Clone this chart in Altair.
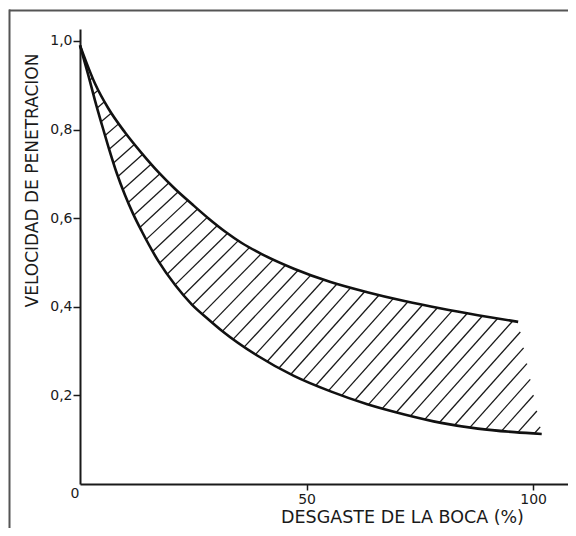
import altair as alt
import pandas as pd
import numpy as np

# ---- data ----
X_UPPER = [0, 3.3, 6.3, 9.9, 13.6, 17.3, 21.0, 24.7, 28.3, 32.0, 35.7, 40.1,
           47.2, 55.3, 63.4, 71.6, 79.7, 87.8, 96.7]
Y_UPPER = [0.99, 0.904, 0.847, 0.794, 0.747, 0.704, 0.666, 0.632, 0.600, 0.570, 0.544,
           0.519, 0.486, 0.456, 0.433, 0.413, 0.396, 0.381, 0.366]

X_LOWER = [0, 1.8, 3.3, 4.8, 6.3, 8.1, 9.9, 11.8, 13.6, 17.3, 21.0, 24.7, 28.3, 31.3,
           39.1, 47.2, 55.3, 63.4, 71.6, 79.7, 87.8, 95.9, 101.9]
Y_LOWER = [0.99, 0.924, 0.866, 0.812, 0.760, 0.702, 0.653, 0.608, 0.571, 0.503, 0.449,
           0.405, 0.372, 0.346, 0.290, 0.244, 0.209, 0.180, 0.157, 0.138, 0.125, 0.117, 0.113]

X_TICKS = [50, 100]
Y_TICKS = [0.2, 0.4, 0.6, 0.8, 1.0]
ORIGIN_LABEL = "0"
X_TITLE = "DESGASTE DE LA BOCA (%)"
Y_TITLE = "VELOCIDAD DE PENETRACION"

# ---- layout ----
W, H = 488, 455
XMAX, YMAX = 107.7, 1.027
SX, SY = W / XMAX, H / YMAX
FONT = "DejaVu Sans"
INK = "#1a1a1a"


def to_px(x, y):
    return x * SX, (YMAX - y) * SY


def to_data(X, Y):
    return X / SX, YMAX - Y / SY


# hatch band polygon (pixel space): upper curve, then lower curve back to tip
poly = [to_px(x, y) for x, y in zip(X_UPPER, Y_UPPER)] + \
       [to_px(x, y) for x, y in zip(X_LOWER[::-1], Y_LOWER[::-1])]


def cut(s, c):
    pts = []
    n = len(poly)
    for i in range(n):
        (x1, y1), (x2, y2) = poly[i], poly[(i + 1) % n]
        f1 = s * x1 + y1 - c
        f2 = s * x2 + y2 - c
        if (f1 < 0) != (f2 < 0):
            t = f1 / (f1 - f2)
            pts.append((x1 + t * (x2 - x1), y1 + t * (y2 - y1)))
    pts.sort()
    return [(pts[i], pts[i + 1]) for i in range(0, len(pts) - 1, 2)]


S_LO, S_HI, GAP = 0.82, 1.12, 13.0
tip = poly[0]
s = S_LO
c = s * tip[0] + tip[1] + 9
segs = []
for k in range(300):
    sg = cut(s, c)
    if not sg:
        break
    segs.extend(sg)
    a, b = max(sg, key=lambda q: (q[1][0] - q[0][0]) ** 2 + (q[1][1] - q[0][1]) ** 2)
    p = ((a[0] + b[0]) / 2, (a[1] + b[1]) / 2)
    nrm = np.array([s, 1.0]) / np.hypot(s, 1.0)
    q = (p[0] + GAP * nrm[0], p[1] + GAP * nrm[1])
    u = min(1.0, max(0.0, q[0] / (50 * SX)))
    s = S_LO + (S_HI - S_LO) * u
    c = s * q[0] + q[1]

hrows = []
for (A, B) in segs:
    x1, y1 = to_data(*A)
    x2, y2 = to_data(*B)
    hrows.append({"x": x1, "y": y1, "x2": x2, "y2": y2})
hatch_df = pd.DataFrame(hrows)

curves = pd.concat([
    pd.DataFrame({"x": X_UPPER, "y": Y_UPPER, "c": "upper"}),
    pd.DataFrame({"x": X_LOWER, "y": Y_LOWER, "c": "lower"}),
])

xscale = alt.Scale(domain=[0, XMAX], nice=False, zero=False)
yscale = alt.Scale(domain=[0, YMAX], nice=False, zero=False)

xaxis = alt.Axis(values=X_TICKS, title=X_TITLE, grid=False, tickSize=6, labelPadding=2,
                 labelFontSize=14, labelFont=FONT, labelColor=INK, labelFlush=False,
                 titleFont=FONT, titleFontSize=17.5, titleFontWeight="normal", titleColor=INK,
                 titleX=322, titleY=38, titleAlign="center", titleBaseline="alphabetic",
                 titleAngle=0, domainColor=INK, domainWidth=2, tickColor=INK, tickWidth=1.5)
yaxis = alt.Axis(values=Y_TICKS, title=Y_TITLE, grid=False, tickSize=7, labelPadding=1,
                 labelExpr="replace(format(datum.value, '.1f'), '.', ',')",
                 labelFontSize=14, labelFont=FONT, labelColor=INK,
                 titleFont=FONT, titleFontSize=17, titleFontWeight="normal", titleColor=INK,
                 titleX=-48, titleY=151, titleAlign="center", titleBaseline="middle",
                 titleAngle=270, domainColor=INK, domainWidth=2, tickColor=INK, tickWidth=1.5)

one = pd.DataFrame({"k": [0]})

frame_top = alt.Chart(one).mark_rule(color="#555555", strokeWidth=2).encode(
    x=alt.value(-71), x2=alt.value(W + 10), y=alt.value(-18.5))
frame_left = alt.Chart(one).mark_rule(color="#555555", strokeWidth=2).encode(
    x=alt.value(-70.5), y=alt.value(-19.5), y2=alt.value(H + 60))

hatch = alt.Chart(hatch_df).mark_rule(color=INK, strokeWidth=1.3).encode(
    x=alt.X("x:Q", scale=xscale, axis=xaxis),
    y=alt.Y("y:Q", scale=yscale, axis=yaxis),
    x2="x2:Q", y2="y2:Q")

lines = alt.Chart(curves).mark_line(color="#111111", strokeWidth=2.6,
                                    interpolate="monotone").encode(
    x=alt.X("x:Q", scale=xscale, axis=xaxis),
    y=alt.Y("y:Q", scale=yscale, axis=yaxis),
    detail="c:N")

origin = alt.Chart(pd.DataFrame({"x": [0], "y": [0], "t": [ORIGIN_LABEL]})).mark_text(
    font=FONT, fontSize=14, color=INK, dx=-5, dy=10).encode(
    x=alt.X("x:Q", scale=xscale, axis=xaxis),
    y=alt.Y("y:Q", scale=yscale, axis=yaxis),
    text="t:N")

chart = alt.layer(frame_top, frame_left, hatch, lines, origin).properties(
    width=W, height=H,
    autosize=alt.AutoSizeParams(type="none"),
    padding={"left": 72, "top": 21, "right": 0, "bottom": 44},
    background="white",
).configure_view(strokeWidth=0)

chart.save("out.html", embed_options={"renderer": "svg", "actions": False})
